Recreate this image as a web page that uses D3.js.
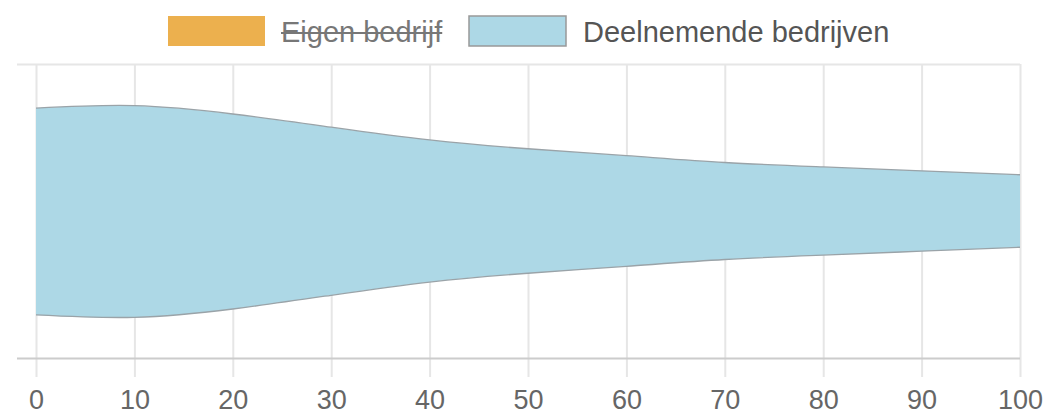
<!DOCTYPE html>
<html>
<head>
<meta charset="utf-8">
<script src="https://cdn.jsdelivr.net/npm/d3@7"></script>
<style>
  html, body { margin: 0; padding: 0; background: #fff; }
  svg { display: block; font-family: "Liberation Sans", Arial, sans-serif; }
</style>
</head>
<body>
<svg id="chart" width="1062" height="416"></svg>
<script>
// ---- data ----
const xValues = [0, 10, 20, 30, 40, 50, 60, 70, 80, 90, 100];
const highValues = [255, 257.5, 249, 235.5, 222.5, 213.5, 206.5, 199.5, 195, 191, 187];
const lowValues  = [44, 41.5, 50, 64, 77.5, 86.5, 93.5, 100.5, 105, 109, 113];
const xTicks = [0, 10, 20, 30, 40, 50, 60, 70, 80, 90, 100];
const yDomain = [0, 300];
const seriesNames = ["Eigen bedrijf", "Deelnemende bedrijven"];
const seriesColors = ["#ecb04e", "#add8e6"];
const seriesHidden = [true, false];

const data = xValues.map((x, i) => ({ x, low: lowValues[i], high: highValues[i] }));

const svg = d3.select("#chart");
const plot = { left: 36, right: 1020, top: 64, bottom: 358 };

const x = d3.scaleLinear().domain([0, 100]).range([plot.left, plot.right]);
const y = d3.scaleLinear().domain(yDomain).range([plot.bottom, plot.top]);

// vertical grid lines + ticks
const xAxis = d3.axisBottom(x).tickValues(xTicks).tickSize(-(plot.bottom - plot.top) - 19).tickFormat(d => d);
const gx = svg.append("g").attr("transform", `translate(0,${plot.bottom + 19})`).call(xAxis);
gx.select(".domain").remove();
gx.selectAll(".tick line").attr("stroke", "#e6e6e6").attr("stroke-width", 2);
gx.selectAll(".tick text")
  .attr("fill", "#666")
  .attr("font-size", 27)
  .attr("dy", null)
  .attr("y", 32)
  .attr("font-family", "Liberation Sans, Arial, sans-serif");

// horizontal lines (top grid, bottom axis line)
svg.append("g").attr("transform", `translate(17,0)`)
  .call(d3.axisRight(y).tickValues(yDomain).tickSize(plot.right - 17).tickFormat(""))
  .call(g => g.select(".domain").remove())
  .call(g => g.selectAll(".tick line").attr("stroke", (d) => d === yDomain[0] ? "#cccccc" : "#e6e6e6").attr("stroke-width", 2));

// area range
const curve = d3.curveNatural;
const area = d3.area()
  .x(d => x(d.x))
  .y0(d => y(d.low))
  .y1(d => y(d.high))
  .curve(curve);
svg.append("path").datum(data).attr("d", area).attr("fill", seriesColors[1]).attr("stroke", "none");

const lineHigh = d3.line().x(d => x(d.x)).y(d => y(d.high)).curve(curve);
const lineLow = d3.line().x(d => x(d.x)).y(d => y(d.low)).curve(curve);
svg.append("path").datum(data).attr("d", lineHigh).attr("fill", "none").attr("stroke", "#9aa3a8").attr("stroke-width", 1.3);
svg.append("path").datum(data).attr("d", lineLow).attr("fill", "none").attr("stroke", "#9aa3a8").attr("stroke-width", 1.3);

// legend
const legendItems = [
  { name: seriesNames[0], color: seriesColors[0], hidden: seriesHidden[0], rx: 168, tx: 281, stroke: "none" },
  { name: seriesNames[1], color: seriesColors[1], hidden: seriesHidden[1], rx: 469, tx: 583, stroke: "#999" }
];
const lg = svg.append("g");
legendItems.forEach(it => {
  lg.append("rect").attr("x", it.rx).attr("y", 16).attr("width", 97).attr("height", 30)
    .attr("fill", it.color).attr("stroke", it.stroke).attr("stroke-width", 1.5);
  const t = lg.append("text").attr("x", it.tx).attr("y", 42)
    .attr("font-size", 29).attr("fill", it.hidden ? "#777" : "#555").text(it.name);
  if (it.hidden) {
    const w = t.node().getComputedTextLength();
    lg.append("line").attr("x1", it.tx).attr("x2", it.tx + w).attr("y1", 33).attr("y2", 33)
      .attr("stroke", "#777").attr("stroke-width", 2);
  }
});
</script>
</body>
</html>
